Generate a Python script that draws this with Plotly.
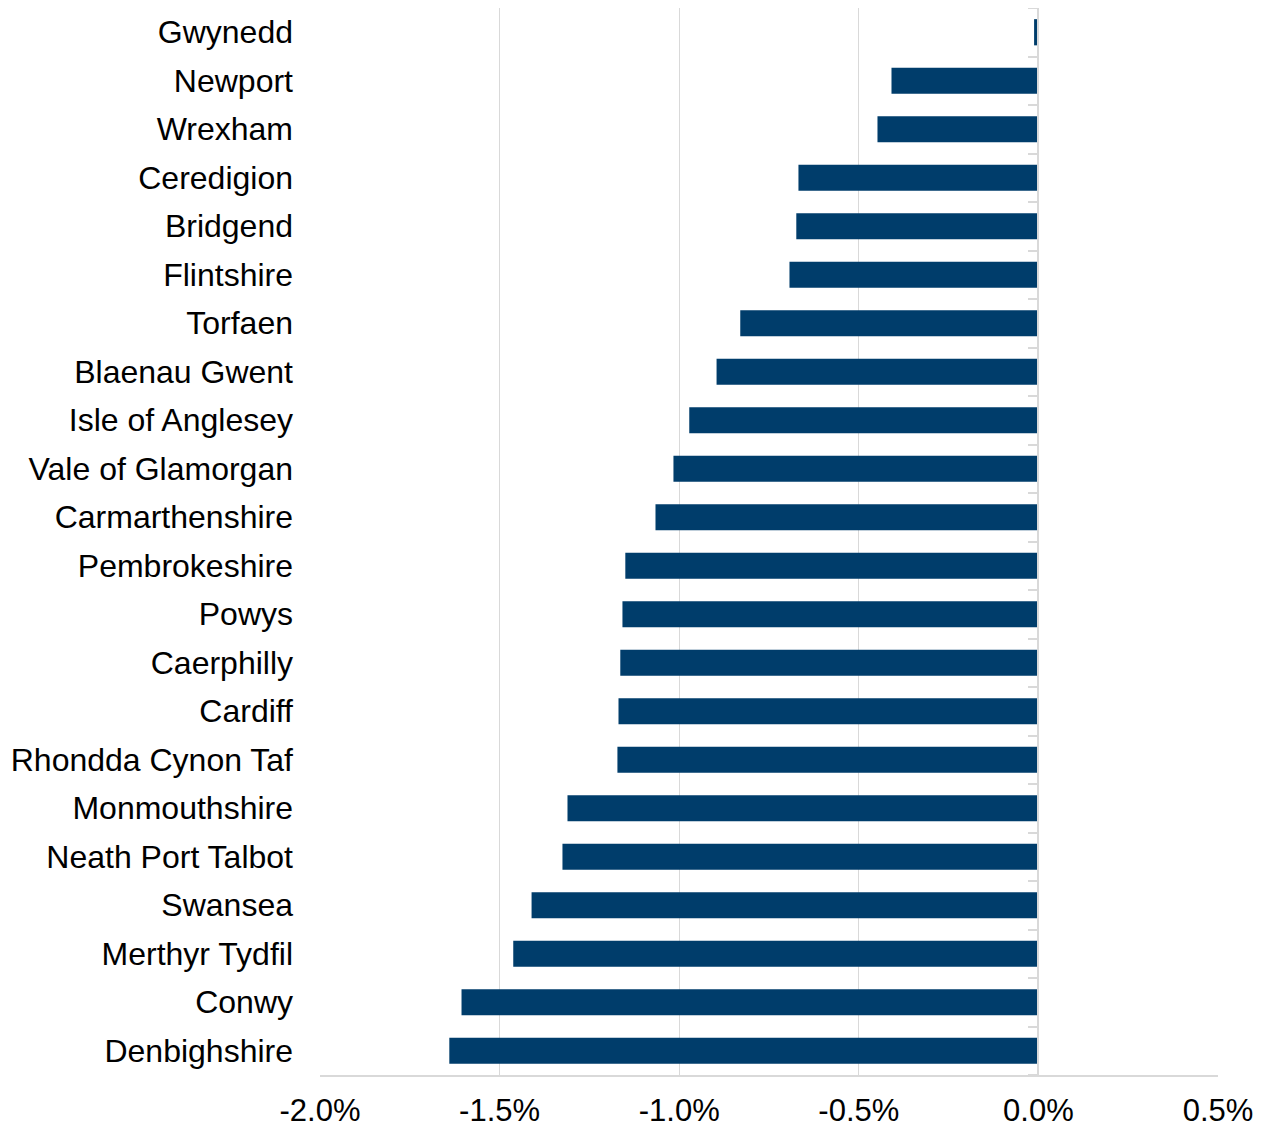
import plotly.graph_objects as go

# Local authorities, top to bottom as shown
areas = ['Gwynedd', 'Newport', 'Wrexham', 'Ceredigion', 'Bridgend', 'Flintshire',
         'Torfaen', 'Blaenau Gwent', 'Isle of Anglesey', 'Vale of Glamorgan',
         'Carmarthenshire', 'Pembrokeshire', 'Powys', 'Caerphilly', 'Cardiff',
         'Rhondda Cynon Taf', 'Monmouthshire', 'Neath Port Talbot', 'Swansea',
         'Merthyr Tydfil', 'Conwy', 'Denbighshire']
# Percentage change
change = [-0.012, -0.409, -0.448, -0.668, -0.674, -0.693,
          -0.830, -0.896, -0.972, -1.016,
          -1.066, -1.150, -1.158, -1.164, -1.169,
          -1.172, -1.311, -1.325, -1.411,
          -1.462, -1.606, -1.640]
x_ticks = [-2.0, -1.5, -1.0, -0.5, 0.0, 0.5]
x_labels = ['-2.0%', '-1.5%', '-1.0%', '-0.5%', '0.0%', '0.5%']

grey = '#d9d9d9'
n = len(areas)

fig = go.Figure()
fig.add_trace(go.Bar(x=change, y=list(range(n)), orientation='h',
                     marker=dict(color='#003D6B', line=dict(width=0)),
                     showlegend=False))
# invisible trace so the zero-line axis is drawn
fig.add_trace(go.Scatter(x=[0], y=[0], yaxis='y2', mode='markers',
                         marker=dict(opacity=0), showlegend=False, hoverinfo='skip'))

# page body adds an 8px offset, so margins are trimmed to compensate
fig.update_layout(
    width=1258, height=1120,
    margin=dict(l=312, r=48, t=0, b=53, autoexpand=False),
    plot_bgcolor='white', paper_bgcolor='white',
    bargap=0.46,
    font=dict(family='Liberation Sans, Arial', size=32, color='#000000'),
    xaxis=dict(range=[-2.0, 0.5], tickvals=x_ticks, ticktext=x_labels,
               tickfont=dict(size=31), automargin=False,
               showgrid=True, gridcolor=grey, gridwidth=1,
               showline=True, linecolor=grey, linewidth=2,
               zeroline=False, ticks='', ticklabelstandoff=7),
    yaxis=dict(range=[n - 0.5, -0.5], tickvals=list(range(n)), ticktext=areas,
               showgrid=False, zeroline=False, showline=False, automargin=False,
               ticks='', ticklabelstandoff=26),
    yaxis2=dict(overlaying='y', anchor='free', position=0.8, side='left',
                range=[n - 0.5, -0.5], showline=True, linecolor=grey, linewidth=2,
                tickvals=[i - 0.5 for i in range(n + 1)], ticks='outside',
                ticklen=9, tickcolor=grey, tickwidth=2, automargin=False,
                showticklabels=False, showgrid=False, zeroline=False),
)

fig.write_html('out.html')
